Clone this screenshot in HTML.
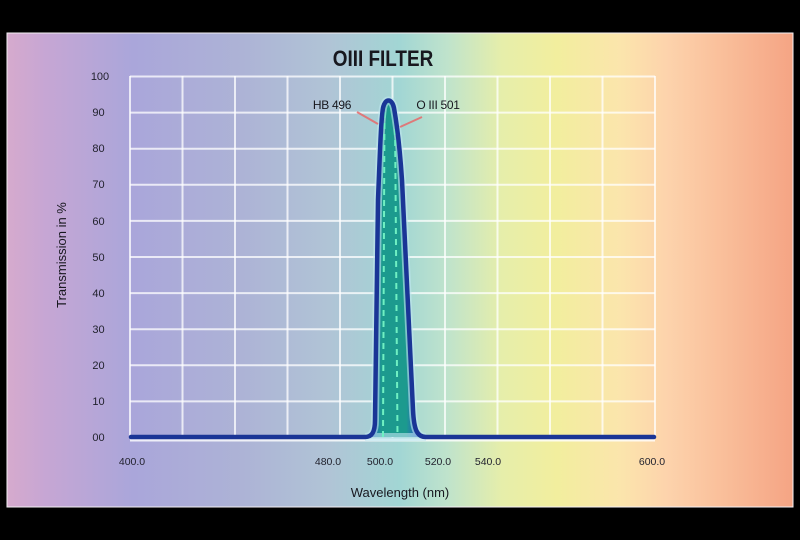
<!DOCTYPE html>
<html><head><meta charset="utf-8">
<style>
html,body{margin:0;padding:0;background:#000;}
body{width:800px;height:540px;overflow:hidden;position:relative;}
svg{position:absolute;left:0;top:0;}
</style></head>
<body>
<svg width="800" height="540" viewBox="0 0 800 540" xmlns="http://www.w3.org/2000/svg">
<defs>
<linearGradient id="bg" x1="7" y1="0" x2="793" y2="0" gradientUnits="userSpaceOnUse">
<stop offset="0" stop-color="#d6aacd"/>
<stop offset="0.05" stop-color="#c6a6d4"/>
<stop offset="0.16" stop-color="#aaa6da"/>
<stop offset="0.30" stop-color="#adb3d6"/>
<stop offset="0.41" stop-color="#b0c4d6"/>
<stop offset="0.50" stop-color="#a2d6d4"/>
<stop offset="0.56" stop-color="#bfe3cc"/>
<stop offset="0.63" stop-color="#e6eeaa"/>
<stop offset="0.70" stop-color="#f2ee9e"/>
<stop offset="0.78" stop-color="#fbe5ac"/>
<stop offset="0.84" stop-color="#fdd3ac"/>
<stop offset="0.92" stop-color="#f9bc98"/>
<stop offset="1" stop-color="#f5a484"/>
</linearGradient>
<linearGradient id="fill" x1="372" y1="0" x2="416" y2="0" gradientUnits="userSpaceOnUse">
<stop offset="0" stop-color="#2a62c0"/>
<stop offset="0.22" stop-color="#1c9a8e"/>
<stop offset="0.78" stop-color="#1c9a8e"/>
<stop offset="1" stop-color="#2a62c0"/>
</linearGradient>
</defs>
<rect x="7" y="33" width="786" height="474" fill="url(#bg)" stroke="#f4f0f4" stroke-width="1"/>

<!-- grid -->
<g stroke="#ffffff" stroke-opacity="0.75" stroke-width="2">
<line x1="130" y1="76.5" x2="655" y2="76.5"/>
<line x1="130" y1="112.6" x2="655" y2="112.6"/>
<line x1="130" y1="148.7" x2="655" y2="148.7"/>
<line x1="130" y1="184.8" x2="655" y2="184.8"/>
<line x1="130" y1="220.9" x2="655" y2="220.9"/>
<line x1="130" y1="257" x2="655" y2="257"/>
<line x1="130" y1="293.1" x2="655" y2="293.1"/>
<line x1="130" y1="329.2" x2="655" y2="329.2"/>
<line x1="130" y1="365.3" x2="655" y2="365.3"/>
<line x1="130" y1="401.4" x2="655" y2="401.4"/>
<line x1="130" y1="76" x2="130" y2="438"/>
<line x1="182.5" y1="76" x2="182.5" y2="438"/>
<line x1="235" y1="76" x2="235" y2="438"/>
<line x1="287.5" y1="76" x2="287.5" y2="438"/>
<line x1="340" y1="76" x2="340" y2="438"/>
<line x1="392.5" y1="76" x2="392.5" y2="438"/>
<line x1="445" y1="76" x2="445" y2="438"/>
<line x1="497.5" y1="76" x2="497.5" y2="438"/>
<line x1="550" y1="76" x2="550" y2="438"/>
<line x1="602.5" y1="76" x2="602.5" y2="438"/>
<line x1="655" y1="76" x2="655" y2="438"/>
</g>

<!-- white halo under baseline -->
<line x1="130" y1="440" x2="655" y2="440" stroke="#ffffff" stroke-opacity="0.8" stroke-width="3"/>

<!-- peak fill -->
<path d="M365,437 C372,437 375,432 375,420 L378,200 C380,150 381,120 383,108 C385,98 392,98 394,108 C397,125 400,150 402,180 L413,410 C414,430 417,437 426,437 Z" fill="url(#fill)" stroke="#bfe6f0" stroke-opacity="0.6" stroke-width="8"/>

<!-- dashed inner lines -->
<g stroke="#6ff0c2" stroke-width="2" stroke-dasharray="6 5">
<line x1="384.5" y1="112" x2="383" y2="437"/>
<line x1="395" y1="118" x2="397.5" y2="437"/>
</g>

<!-- curve outline -->
<path d="M131,437 L365,437 C372,437 375,432 375,420 L378,200 C380,150 381,120 383,108 C385,98 392,98 394,108 C397,125 400,150 402,180 L413,410 C414,430 417,437 426,437 L654,437" fill="none" stroke="#1a3596" stroke-width="4.5" stroke-linecap="round" stroke-linejoin="round"/>

<!-- annotation leaders -->
<g stroke="#e8686a" stroke-width="2" stroke-opacity="0.85">
<line x1="357" y1="112" x2="378" y2="124"/>
<line x1="422" y1="117" x2="400" y2="127"/>
</g>

<g font-family="'Liberation Sans', sans-serif" fill="#18181f">
<text x="383" y="66" font-size="22" font-weight="bold" text-anchor="middle" transform="translate(383 0) scale(0.86 1) translate(-383 0)">OIII FILTER</text>
<text x="332" y="109" font-size="12" text-anchor="middle" letter-spacing="-0.3">HB 496</text>
<text x="438" y="109" font-size="12" text-anchor="middle" letter-spacing="-0.3">O III 501</text>

<g font-size="11" text-anchor="middle" fill="#22222e">
<text x="100" y="80">100</text>
<text x="98.5" y="116">90</text>
<text x="98.5" y="152">80</text>
<text x="98.5" y="188">70</text>
<text x="98.5" y="225">60</text>
<text x="98.5" y="261">50</text>
<text x="98.5" y="297">40</text>
<text x="98.5" y="333">30</text>
<text x="98.5" y="369">20</text>
<text x="98.5" y="405">10</text>
<text x="98.5" y="441">00</text>
</g>

<g font-size="10.5" text-anchor="middle" fill="#22222e">
<text x="132" y="465">400.0</text>
<text x="328" y="465">480.0</text>
<text x="380" y="465">500.0</text>
<text x="438" y="465">520.0</text>
<text x="488" y="465">540.0</text>
<text x="652" y="465">600.0</text>
</g>

<text x="400" y="497" font-size="13" text-anchor="middle">Wavelength (nm)</text>
<text transform="translate(66 255) rotate(-90)" font-size="13" text-anchor="middle">Transmission in %</text>
</g>
</svg>
</body></html>
